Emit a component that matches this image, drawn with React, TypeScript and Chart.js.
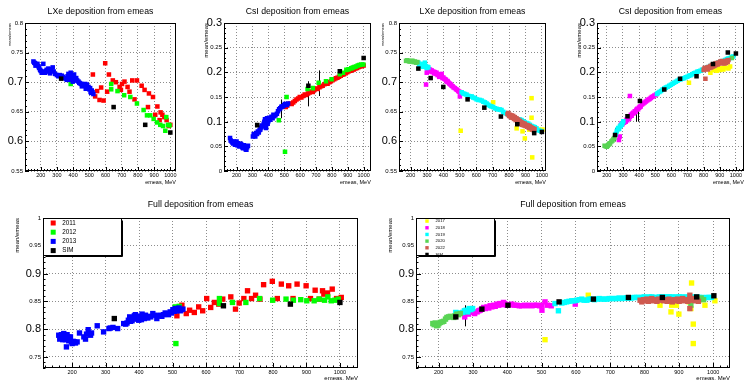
import { useEffect, useRef } from 'react';
import { Chart, registerables } from 'chart.js';
Chart.register(...registerables);

type P = [number, number];
type E = [number, number, number];

// ---------- tick labels ----------
const X_TICKS = [200, 300, 400, 500, 600, 700, 800, 900, 1000];
const Y_TICKS_LXE = [0.55, 0.6, 0.65, 0.7, 0.75, 0.8];
const Y_TICKS_CSI = [0, 0.05, 0.1, 0.15, 0.2, 0.25, 0.3];
const Y_TICKS_FULL = [0.75, 0.8, 0.85, 0.9, 0.95, 1];
const BIG_LXE = [0.6, 0.7];
const BIG_CSI = [0.1, 0.2, 0.3];
const BIG_FULL = [0.8, 0.9];

// ---------- legends ----------
const LABELS_A = ['2011', '2012', '2013', 'SIM'];
const LABELS_B = ['2017', '2018', '2019', '2020', '2022', 'SIM'];

// ---------- Panel 1: LXe, 2011-2013 ----------
const LXE_A_2011: P[] = [[522,0.713],[536,0.676],[548,0.685],[563,0.670],[573,0.691],[588,0.669],[598,0.732],[610,0.684],[621,0.713],[645,0.703],[664,0.700],[687,0.692],[695,0.687],[702,0.697],[717,0.701],[736,0.692],[748,0.684],[765,0.703],[779,0.671],[794,0.703],[823,0.694],[841,0.687],[862,0.658],[868,0.681],[893,0.675],[907,0.645],[920,0.659],[934,0.636],[940,0.649],[951,0.645],[963,0.641],[977,0.636],[990,0.626],[1000,0.628]];
const LXE_A_2012: P[] = [[385,0.697],[635,0.697],[635,0.688],[674,0.685],[715,0.678],[753,0.675],[794,0.664],[835,0.653],[856,0.644],[876,0.644],[897,0.638],[918,0.632],[938,0.628],[955,0.626],[969,0.618],[975,0.641],[986,0.628],[995,0.627]];
const LXE_A_2013: P[] = [[155,0.735],[160,0.733],[165,0.732],[168,0.728],[172,0.730],[175,0.729],[180,0.731],[186,0.727],[190,0.724],[196,0.721],[200,0.719],[206,0.716],[210,0.718],[216,0.731],[220,0.717],[227,0.716],[232,0.719],[237,0.721],[242,0.718],[247,0.723],[252,0.720],[258,0.715],[265,0.722],[274,0.725],[280,0.718],[289,0.714],[300,0.712],[309,0.710],[318,0.712],[330,0.711],[338,0.709],[346,0.707],[355,0.706],[361,0.704],[366,0.710],[371,0.714],[376,0.712],[381,0.711],[385,0.716],[388,0.704],[392,0.708],[398,0.701],[402,0.709],[406,0.713],[410,0.706],[414,0.703],[419,0.707],[425,0.703],[433,0.701],[438,0.699],[443,0.698],[450,0.697],[454,0.693],[460,0.696],[466,0.694],[474,0.697],[478,0.689],[485,0.696],[490,0.691],[495,0.692],[500,0.688],[505,0.690],[508,0.684],[511,0.682],[515,0.686],[520,0.683],[525,0.680]];
const LXE_A_SIM: P[] = [[326,0.706],[650,0.658],[845,0.628],[1000,0.615]];
const LXE_A_ERR: E[] = [];

// ---------- Panel 2: CsI, 2011-2013 ----------
const CSI_A_2011: P[] = [[499,0.131],[510,0.130],[520,0.133],[536,0.137],[547,0.136],[557,0.139],[567,0.142],[577,0.145],[588,0.147],[598,0.150],[608,0.149],[619,0.152],[629,0.155],[639,0.154],[650,0.157],[660,0.159],[670,0.161],[680,0.160],[690,0.164],[701,0.167],[711,0.166],[722,0.170],[732,0.172],[742,0.173],[753,0.176],[763,0.178],[773,0.177],[784,0.180],[794,0.182],[804,0.184],[815,0.186],[825,0.188],[835,0.189],[845,0.191],[856,0.193],[866,0.195],[876,0.196],[887,0.198],[897,0.200],[907,0.202],[918,0.203],[928,0.205],[938,0.206],[948,0.208],[959,0.209],[969,0.211],[979,0.212],[990,0.213],[1000,0.214]];
const CSI_A_2012: P[] = [[466,0.103],[505,0.039],[515,0.150],[647,0.166],[680,0.168],[717,0.179],[763,0.182],[798,0.186],[850,0.196],[870,0.199],[891,0.205],[905,0.206],[922,0.208],[932,0.210],[942,0.211],[952,0.212],[963,0.214],[973,0.215],[984,0.216],[998,0.216]];
const CSI_A_2013: P[] = [[159,0.067],[163,0.062],[169,0.060],[174,0.058],[179,0.056],[184,0.060],[190,0.053],[195,0.055],[200,0.060],[205,0.052],[210,0.056],[215,0.050],[221,0.050],[226,0.055],[231,0.053],[236,0.048],[241,0.046],[246,0.052],[252,0.050],[257,0.044],[262,0.043],[267,0.048],[272,0.051],[303,0.070],[308,0.075],[313,0.073],[318,0.070],[324,0.077],[329,0.075],[334,0.080],[340,0.078],[345,0.083],[350,0.084],[355,0.088],[359,0.092],[365,0.090],[371,0.096],[375,0.100],[379,0.105],[383,0.098],[386,0.087],[390,0.102],[392,0.107],[396,0.096],[400,0.101],[405,0.108],[412,0.104],[420,0.110],[427,0.107],[432,0.114],[437,0.111],[445,0.113],[454,0.116],[461,0.121],[468,0.125],[475,0.127],[482,0.130],[490,0.131],[499,0.133],[504,0.136],[509,0.135],[516,0.134],[524,0.137]];
const CSI_A_SIM: P[] = [[330,0.093],[652,0.173],[850,0.202],[1000,0.229]];
const CSI_A_ERR: E[] = [[650,0.131,0.182],[717,0.152,0.204],[479,0.107,0.145],[231,0.043,0.060],[400,0.092,0.110]];

// ---------- Panel 3: LXe, 2017-2022 ----------
const LXE_B_2017: P[] = [[505,0.618],[703,0.666],[846,0.622],[882,0.617],[896,0.605],[923,0.620],[937,0.673],[937,0.640],[941,0.573],[978,0.620],[1003,0.620]];
const LXE_B_2018: P[] = [[294,0.696],[298,0.716],[303,0.720],[308,0.719],[313,0.722],[318,0.721],[323,0.718],[328,0.720],[333,0.717],[338,0.718],[343,0.715],[348,0.717],[353,0.714],[358,0.716],[364,0.712],[369,0.713],[374,0.709],[379,0.710],[384,0.713],[389,0.714],[394,0.707],[399,0.708],[404,0.706],[410,0.705],[415,0.704],[420,0.701],[425,0.702],[429,0.700],[435,0.698],[440,0.697],[444,0.696],[450,0.694],[456,0.693],[462,0.691],[470,0.690],[477,0.688],[484,0.687],[490,0.685],[496,0.684],[500,0.676],[504,0.681]];
const LXE_B_2019: P[] = [[247,0.733],[252,0.730],[257,0.729],[262,0.731],[267,0.727],[272,0.730],[277,0.726],[282,0.729],[287,0.733],[292,0.727],[297,0.724],[302,0.726],[308,0.725],[511,0.683],[521,0.681],[531,0.680],[541,0.679],[551,0.677],[561,0.676],[572,0.676],[582,0.674],[592,0.673],[602,0.671],[612,0.670],[622,0.670],[633,0.669],[643,0.667],[653,0.666],[663,0.664],[673,0.662],[683,0.660],[693,0.659],[703,0.658],[714,0.656],[724,0.655],[734,0.654],[744,0.654],[754,0.653],[764,0.650],[775,0.648],[785,0.647],[795,0.645],[805,0.643],[815,0.642],[825,0.640],[836,0.639],[846,0.638],[856,0.637],[866,0.637],[876,0.636],[886,0.634],[896,0.632],[906,0.631],[917,0.630],[927,0.628],[937,0.626],[947,0.625],[957,0.624],[967,0.622],[978,0.619],[988,0.618],[998,0.617]];
const LXE_B_2020: P[] = [[172,0.736],[179,0.737],[186,0.736],[193,0.735],[200,0.735],[206,0.736],[212,0.736],[219,0.734],[226,0.735],[233,0.733],[241,0.734]];
const LXE_B_2022: P[] = [[790,0.646],[795,0.648],[800,0.643],[805,0.645],[810,0.641],[815,0.644],[820,0.640],[825,0.643],[830,0.638],[835,0.641],[840,0.636],[845,0.639],[850,0.634],[855,0.637],[860,0.632],[865,0.635],[870,0.630],[875,0.633],[880,0.628],[885,0.631],[890,0.627],[895,0.630],[900,0.626],[905,0.628],[910,0.625],[915,0.627],[920,0.623],[925,0.626],[930,0.622],[935,0.624],[940,0.620],[945,0.622],[950,0.619],[955,0.621]];
const LXE_B_SIM: P[] = [[247,0.723],[322,0.707],[399,0.692],[547,0.671],[649,0.657],[750,0.642],[850,0.629],[953,0.614],[1000,0.616]];
const LXE_B_ERR: E[] = [];

// ---------- Panel 4: CsI, 2017-2022 ----------
const CSI_B_2017: P[] = [[709,0.179],[842,0.199],[862,0.204],[882,0.203],[893,0.207],[903,0.205],[913,0.208],[923,0.206],[933,0.210],[954,0.208],[964,0.212]];
const CSI_B_2018: P[] = [[275,0.063],[280,0.070],[287,0.093],[292,0.097],[297,0.095],[302,0.099],[307,0.098],[312,0.101],[317,0.100],[322,0.104],[327,0.103],[332,0.107],[338,0.106],[343,0.152],[343,0.110],[349,0.114],[354,0.112],[358,0.116],[363,0.118],[368,0.117],[373,0.121],[378,0.120],[383,0.124],[389,0.126],[394,0.125],[399,0.128],[404,0.130],[410,0.131],[418,0.135],[426,0.137],[434,0.139],[442,0.141],[450,0.143],[458,0.145],[465,0.146],[472,0.148],[479,0.150],[487,0.151],[495,0.153],[505,0.155]];
const CSI_B_2019: P[] = [[255,0.075],[261,0.080],[266,0.084],[271,0.087],[276,0.085],[281,0.090],[286,0.092],[292,0.094],[297,0.097],[302,0.101],[511,0.156],[516,0.158],[526,0.160],[536,0.162],[546,0.165],[556,0.167],[566,0.169],[577,0.171],[587,0.173],[597,0.175],[607,0.177],[617,0.179],[628,0.181],[638,0.183],[648,0.185],[658,0.186],[668,0.187],[679,0.188],[689,0.190],[699,0.191],[709,0.193],[719,0.194],[730,0.196],[740,0.198],[750,0.199],[760,0.201],[770,0.202],[780,0.203],[790,0.205],[801,0.206],[811,0.208],[821,0.210],[831,0.211],[842,0.213],[852,0.214],[862,0.216],[872,0.217],[882,0.218],[892,0.220],[903,0.221],[913,0.222],[923,0.223],[933,0.225],[944,0.227],[954,0.228],[964,0.229],[974,0.231],[984,0.232]];
const CSI_B_2020: P[] = [[186,0.051],[193,0.050],[200,0.049],[205,0.051],[210,0.053],[215,0.055],[220,0.056],[228,0.060],[235,0.062],[241,0.065],[247,0.067],[975,0.229]];
const CSI_B_2022: P[] = [[800,0.205],[806,0.209],[811,0.187],[816,0.207],[821,0.210],[826,0.206],[831,0.211],[836,0.209],[842,0.213],[847,0.210],[852,0.215],[857,0.212],[862,0.216],[867,0.213],[872,0.218],[877,0.215],[882,0.219],[887,0.216],[893,0.220],[898,0.218],[903,0.222],[908,0.219],[913,0.223],[918,0.219],[923,0.222],[928,0.218],[933,0.222],[938,0.219],[944,0.224],[949,0.221],[954,0.225]];
const CSI_B_SIM: P[] = [[251,0.073],[328,0.111],[405,0.142],[556,0.165],[654,0.187],[756,0.192],[858,0.217],[950,0.240],[1000,0.238]];
const CSI_B_ERR: E[] = [[251,0.060,0.087],[393,0.100,0.128],[380,0.100,0.115]];

// ---------- Panel 5: Full, 2011-2013 ----------
const FULL_A_2011: P[] = [[513,0.824],[528,0.843],[541,0.828],[551,0.834],[565,0.830],[578,0.840],[590,0.833],[602,0.855],[614,0.839],[625,0.848],[638,0.845],[650,0.854],[674,0.858],[688,0.836],[699,0.847],[713,0.855],[724,0.869],[736,0.855],[748,0.861],[761,0.854],[772,0.880],[798,0.886],[813,0.855],[825,0.881],[847,0.878],[860,0.855],[872,0.881],[899,0.878],[912,0.855],[926,0.870],[938,0.854],[948,0.869],[952,0.863],[963,0.865],[977,0.872],[990,0.855],[1004,0.857]];
const FULL_A_2012: P[] = [[510,0.774],[508,0.840],[515,0.838],[520,0.841],[640,0.855],[640,0.846],[679,0.848],[719,0.848],[760,0.855],[799,0.852],[839,0.854],[861,0.852],[883,0.853],[901,0.851],[923,0.851],[938,0.854],[954,0.852],[964,0.858],[974,0.851],[985,0.852],[995,0.854]];
const FULL_A_2013: P[] = [[160,0.789],[163,0.782],[166,0.786],[168,0.790],[170,0.786],[172,0.781],[175,0.792],[178,0.784],[180,0.781],[182,0.788],[183,0.768],[185,0.790],[187,0.786],[190,0.779],[192,0.785],[195,0.786],[198,0.777],[200,0.774],[203,0.778],[207,0.777],[210,0.775],[215,0.777],[222,0.793],[235,0.786],[240,0.782],[243,0.791],[248,0.799],[252,0.792],[255,0.789],[258,0.793],[275,0.806],[294,0.795],[310,0.801],[314,0.802],[322,0.803],[336,0.801],[354,0.810],[360,0.809],[364,0.811],[368,0.816],[372,0.822],[374,0.814],[379,0.815],[382,0.820],[386,0.824],[389,0.826],[392,0.818],[394,0.819],[397,0.823],[399,0.816],[402,0.821],[404,0.823],[407,0.817],[409,0.827],[412,0.822],[416,0.819],[419,0.825],[422,0.822],[426,0.820],[429,0.823],[435,0.822],[441,0.828],[447,0.825],[453,0.819],[458,0.824],[463,0.825],[468,0.823],[473,0.826],[478,0.829],[483,0.828],[488,0.826],[493,0.831],[497,0.829],[501,0.835],[505,0.832],[508,0.837],[512,0.833],[515,0.836],[519,0.838],[523,0.833],[527,0.835],[531,0.836]];
const FULL_A_SIM: P[] = [[326,0.819],[652,0.842],[852,0.845],[1000,0.848]];
const FULL_A_ERR: E[] = [[165,0.777,0.793],[203,0.770,0.782]];

// ---------- Panel 6: Full, 2017-2022 ----------
const FULL_B_2017: P[] = [[510,0.781],[636,0.861],[845,0.843],[877,0.831],[879,0.843],[893,0.843],[900,0.827],[930,0.849],[935,0.837],[937,0.883],[942,0.809],[942,0.774],[960,0.853],[976,0.843],[1005,0.851]];
const FULL_B_2018: P[] = [[276,0.822],[287,0.827],[299,0.830],[305,0.828],[312,0.831],[317,0.833],[321,0.834],[326,0.836],[331,0.839],[336,0.837],[341,0.840],[346,0.838],[350,0.842],[355,0.840],[360,0.843],[365,0.841],[370,0.845],[375,0.843],[379,0.846],[384,0.844],[389,0.848],[394,0.845],[399,0.843],[406,0.844],[413,0.845],[420,0.843],[428,0.843],[435,0.842],[442,0.842],[450,0.843],[457,0.842],[464,0.843],[472,0.842],[479,0.843],[486,0.843],[494,0.842],[501,0.843],[501,0.834],[510,0.849],[517,0.843],[528,0.842],[598,0.845]];
const FULL_B_2019: P[] = [[250,0.830],[260,0.829],[270,0.830],[275,0.833],[280,0.834],[285,0.831],[289,0.837],[294,0.835],[299,0.837],[539,0.846],[549,0.833],[559,0.847],[566,0.848],[573,0.849],[580,0.850],[588,0.851],[595,0.851],[602,0.852],[610,0.853],[617,0.854],[624,0.852],[632,0.852],[639,0.854],[646,0.854],[654,0.853],[661,0.854],[668,0.855],[675,0.854],[683,0.854],[690,0.854],[697,0.855],[704,0.855],[712,0.855],[719,0.855],[726,0.856],[733,0.855],[741,0.856],[748,0.856],[755,0.856],[762,0.856],[770,0.857],[777,0.857],[784,0.857],[792,0.857],[799,0.858],[806,0.857],[814,0.858],[821,0.858],[828,0.857],[835,0.857],[843,0.858],[850,0.858],[857,0.858],[864,0.858],[872,0.858],[879,0.858],[886,0.857],[893,0.858],[901,0.858],[908,0.858],[915,0.857],[922,0.858],[930,0.858],[937,0.858],[944,0.857],[952,0.858],[959,0.857],[966,0.857],[973,0.856],[981,0.857],[988,0.857],[995,0.857]];
const FULL_B_2020: P[] = [[183,0.810],[187,0.808],[190,0.811],[194,0.806],[198,0.807],[201,0.810],[205,0.812],[210,0.813],[215,0.814],[220,0.818],[224,0.821],[229,0.822],[234,0.823],[239,0.822],[244,0.821],[248,0.824],[253,0.827],[258,0.826],[263,0.828],[935,0.843],[965,0.856],[972,0.853]];
const FULL_B_2022: P[] = [[787,0.852],[792,0.849],[797,0.853],[801,0.851],[806,0.854],[811,0.850],[816,0.852],[821,0.855],[826,0.851],[831,0.853],[836,0.850],[841,0.854],[846,0.852],[851,0.855],[856,0.851],[861,0.853],[866,0.850],[871,0.854],[876,0.852],[881,0.849],[886,0.853],[891,0.851],[896,0.854],[901,0.850],[906,0.852],[911,0.855],[916,0.851],[921,0.853],[926,0.850],[932,0.861],[932,0.837],[932,0.854],[937,0.852],[942,0.855],[947,0.851],[952,0.853],[957,0.850]];
const FULL_B_SIM: P[] = [[250,0.822],[326,0.836],[402,0.843],[551,0.849],[651,0.854],[753,0.857],[852,0.857],[952,0.858],[1002,0.860]];
const FULL_B_ERR: E[] = [[276,0.805,0.843]];

// ---------- styles ----------
const COLORS_A = ['#ff0000', '#00ff00', '#0000ff', '#000000'];
const COLORS_B = ['#ffff00', '#ff00ff', '#00ffff', '#59d454', '#cf5a50', '#000000'];
const FONT = '"Liberation Sans", Arial, Helvetica, sans-serif';
const GRID = '#8c8c8c';

interface LegendCfg { w: number; h: number; first: number; step: number; mx: number; tx: number; font: number; ms: number; }
interface PanelCfg {
  left: number; top: number; w: number; h: number;
  m: { l: number; r: number; t: number; b: number };
  title: string; titleSize: number; titleY: number;
  yTitleX: number; yTitleSize: number; xTitleY: number; xTitleSize: number;
  xRange: [number, number]; yRange: [number, number];
  yTicks: number[]; big: number[];
  labels: string[]; colors: string[]; series: P[][]; errs: E[];
  r: number; tickMajor: number; tickMinor: number;
  legend: LegendCfg | null;
}

const PANELS: PanelCfg[] = [
  { left: 0, top: 0, w: 187, h: 190, m: { l: 25, r: 11, t: 23, b: 19 },
    title: 'LXe deposition from emeas', titleSize: 8.7, titleY: 12,
    yTitleX: 10, yTitleSize: 4, xTitleY: 182, xTitleSize: 5.5,
    xRange: [103, 1035], yRange: [0.55, 0.8], yTicks: Y_TICKS_LXE, big: BIG_LXE,
    labels: LABELS_A, colors: COLORS_A, series: [LXE_A_2011, LXE_A_2012, LXE_A_2013, LXE_A_SIM], errs: LXE_A_ERR,
    r: 3.2, tickMajor: 4, tickMinor: 2, legend: null },
  { left: 187, top: 0, w: 187, h: 190, m: { l: 37, r: 1, t: 23, b: 19 },
    title: 'CsI deposition from emeas', titleSize: 8.7, titleY: 12,
    yTitleX: 19, yTitleSize: 6, xTitleY: 182, xTitleSize: 5.5,
    xRange: [121, 1045], yRange: [0, 0.3], yTicks: Y_TICKS_CSI, big: BIG_CSI,
    labels: LABELS_A, colors: COLORS_A, series: [CSI_A_2011, CSI_A_2012, CSI_A_2013, CSI_A_SIM], errs: CSI_A_ERR,
    r: 3.2, tickMajor: 4, tickMinor: 2, legend: null },
  { left: 374, top: 0, w: 186, h: 190, m: { l: 25, r: 14, t: 23, b: 19 },
    title: 'LXe deposition from emeas', titleSize: 8.7, titleY: 12,
    yTitleX: 9, yTitleSize: 4, xTitleY: 182, xTitleSize: 5.5,
    xRange: [129, 1025], yRange: [0.55, 0.8], yTicks: Y_TICKS_LXE, big: BIG_LXE,
    labels: LABELS_B, colors: COLORS_B, series: [LXE_B_2017, LXE_B_2018, LXE_B_2019, LXE_B_2020, LXE_B_2022, LXE_B_SIM], errs: LXE_B_ERR,
    r: 3.2, tickMajor: 4, tickMinor: 2, legend: null },
  { left: 560, top: 0, w: 187, h: 190, m: { l: 37, r: 1, t: 23, b: 19 },
    title: 'CsI deposition from emeas', titleSize: 8.7, titleY: 12,
    yTitleX: 19, yTitleSize: 6, xTitleY: 182, xTitleSize: 5.5,
    xRange: [139, 1049], yRange: [0, 0.3], yTicks: Y_TICKS_CSI, big: BIG_CSI,
    labels: LABELS_B, colors: COLORS_B, series: [CSI_B_2017, CSI_B_2018, CSI_B_2019, CSI_B_2020, CSI_B_2022, CSI_B_SIM], errs: CSI_B_ERR,
    r: 3.2, tickMajor: 4, tickMinor: 2, legend: null },
  { left: 0, top: 190, w: 374, h: 190, m: { l: 43, r: 16, t: 28, b: 12 },
    title: 'Full deposition from emeas', titleSize: 8.8, titleY: 15,
    yTitleX: 17, yTitleSize: 6, xTitleY: 188, xTitleSize: 6,
    xRange: [113, 1054], yRange: [0.73, 1.0], yTicks: Y_TICKS_FULL, big: BIG_FULL,
    labels: LABELS_A, colors: COLORS_A, series: [FULL_A_2011, FULL_A_2012, FULL_A_2013, FULL_A_SIM], errs: FULL_A_ERR,
    r: 3.8, tickMajor: 5, tickMinor: 2.5,
    legend: { w: 78, h: 37, first: 4.5, step: 9.2, mx: 9.7, tx: 18.7, font: 6.3, ms: 5 } },
  { left: 374, top: 190, w: 373, h: 190, m: { l: 42, r: 17, t: 28, b: 12 },
    title: 'Full deposition from emeas', titleSize: 8.8, titleY: 15,
    yTitleX: 16, yTitleSize: 6, xTitleY: 188, xTitleSize: 6,
    xRange: [134, 1049], yRange: [0.73, 1.0], yTicks: Y_TICKS_FULL, big: BIG_FULL,
    labels: LABELS_B, colors: COLORS_B, series: [FULL_B_2017, FULL_B_2018, FULL_B_2019, FULL_B_2020, FULL_B_2022, FULL_B_SIM], errs: FULL_B_ERR,
    r: 3.8, tickMajor: 5, tickMinor: 2.5,
    legend: { w: 78, h: 37, first: 2.6, step: 6.67, mx: 10.5, tx: 19, font: 4.2, ms: 3.4 } },
];

function fmt(v: number): string {
  return String(+v.toFixed(2));
}

function makeDecor(cfg: PanelCfg) {
  return {
    id: 'rootDecor',
    beforeDatasetsDraw(chart: any) {
      const { ctx } = chart;
      const xs = chart.scales.x;
      const ys = chart.scales.y;
      ctx.save();
      ctx.strokeStyle = '#000';
      ctx.lineWidth = 1;
      for (const [x, lo, hi] of cfg.errs) {
        const px = Math.round(xs.getPixelForValue(x)) + 0.5;
        ctx.beginPath();
        ctx.moveTo(px, ys.getPixelForValue(lo));
        ctx.lineTo(px, ys.getPixelForValue(hi));
        ctx.stroke();
      }
      ctx.restore();
    },
    afterDraw(chart: any) {
      const { ctx, chartArea: a } = chart;
      const xs = chart.scales.x;
      const ys = chart.scales.y;
      ctx.save();
      // frame
      ctx.strokeStyle = '#000';
      ctx.lineWidth = 1;
      ctx.strokeRect(Math.round(a.left) + 0.5, Math.round(a.top) + 0.5,
        Math.round(a.right - a.left) - 1, Math.round(a.bottom - a.top) - 1);
      // ticks
      ctx.beginPath();
      const xStep = 20;
      for (let k = Math.ceil(cfg.xRange[0] / xStep); k * xStep <= cfg.xRange[1]; k++) {
        const v = k * xStep;
        const major = v % 100 === 0;
        const px = Math.round(xs.getPixelForValue(v)) + 0.5;
        ctx.moveTo(px, a.bottom);
        ctx.lineTo(px, a.bottom - (major ? cfg.tickMajor : cfg.tickMinor));
      }
      const yStep = 0.01;
      for (let k = Math.ceil(cfg.yRange[0] / yStep - 1e-6); k * yStep <= cfg.yRange[1] + 1e-9; k++) {
        const v = k * yStep;
        const major = k % 5 === 0;
        const py = Math.round(ys.getPixelForValue(v)) + 0.5;
        ctx.moveTo(a.left, py);
        ctx.lineTo(a.left + (major ? cfg.tickMajor : cfg.tickMinor), py);
      }
      ctx.stroke();
      // titles
      ctx.fillStyle = '#000';
      ctx.font = `${cfg.titleSize}px ${FONT}`;
      ctx.textAlign = 'center';
      ctx.textBaseline = 'middle';
      ctx.fillText(cfg.title, (a.left + a.right) / 2, cfg.titleY);
      ctx.font = `${cfg.xTitleSize}px ${FONT}`;
      ctx.textAlign = 'right';
      ctx.fillText('emeas, MeV', a.right, cfg.xTitleY);
      ctx.save();
      ctx.translate(cfg.yTitleX, a.top);
      ctx.rotate(-Math.PI / 2);
      ctx.font = `${cfg.yTitleSize}px ${FONT}`;
      ctx.textAlign = 'right';
      ctx.fillText('mean/emeas', 0, 0);
      ctx.restore();
      // legend
      const L = cfg.legend;
      if (L) {
        const lx = Math.round(a.left) + 0.5;
        const ly = Math.round(a.top) + 0.5;
        ctx.fillStyle = '#fff';
        ctx.fillRect(lx, ly, L.w, L.h);
        ctx.strokeStyle = '#000';
        ctx.lineWidth = 1;
        ctx.strokeRect(lx, ly, L.w, L.h);
        ctx.beginPath();
        ctx.moveTo(lx + 2, ly + L.h + 1);
        ctx.lineTo(lx + L.w + 1, ly + L.h + 1);
        ctx.lineTo(lx + L.w + 1, ly + 2);
        ctx.stroke();
        ctx.font = `${L.font}px ${FONT}`;
        ctx.textAlign = 'left';
        ctx.textBaseline = 'middle';
        cfg.labels.forEach((lab, i) => {
          const cy = ly + L.first + i * L.step;
          ctx.fillStyle = cfg.colors[i];
          ctx.fillRect(lx + L.mx - L.ms / 2, cy - L.ms / 2, L.ms, L.ms);
          ctx.fillStyle = '#000';
          ctx.fillText(lab, lx + L.tx, cy);
        });
      }
      ctx.restore();
    },
  };
}

function Panel({ cfg }: { cfg: PanelCfg }) {
  const ref = useRef<HTMLCanvasElement>(null);
  useEffect(() => {
    if (!ref.current) return;
    const n = cfg.series.length;
    const chart = new Chart(ref.current, {
      type: 'scatter',
      data: {
        datasets: cfg.series.map((s, i) => ({
          label: cfg.labels[i],
          data: s.map(([x, y]) => ({ x, y })),
          backgroundColor: cfg.colors[i],
          borderWidth: 0,
          pointStyle: 'rect',
          pointRadius: cfg.r,
          pointHoverRadius: cfg.r,
          order: n - i,
        })),
      },
      options: {
        animation: false,
        responsive: false,
        maintainAspectRatio: false,
        events: [],
        layout: { padding: { left: 0, right: cfg.m.r, top: cfg.m.t, bottom: 0 } },
        plugins: { legend: { display: false }, tooltip: { enabled: false }, title: { display: false } },
        scales: {
          x: {
            type: 'linear',
            min: cfg.xRange[0],
            max: cfg.xRange[1],
            afterBuildTicks: (s: any) => { s.ticks = X_TICKS.map((v) => ({ value: v })); },
            afterFit: (s: any) => { s.height = cfg.m.b; },
            grid: { color: GRID, lineWidth: 1, drawTicks: false },
            border: { display: false, dash: [1, 2] },
            ticks: {
              color: '#000', padding: 1.5, maxRotation: 0, autoSkip: false,
              font: { family: FONT, size: 5.5 },
              callback: (v: any) => String(v),
            },
          },
          y: {
            type: 'linear',
            min: cfg.yRange[0],
            max: cfg.yRange[1],
            afterBuildTicks: (s: any) => { s.ticks = cfg.yTicks.map((v) => ({ value: v })); },
            afterFit: (s: any) => { s.width = cfg.m.l; },
            grid: { color: GRID, lineWidth: 1, drawTicks: false },
            border: { display: false, dash: [1, 2] },
            ticks: {
              color: '#000', padding: 2, autoSkip: false,
              font: (c: any) => {
                const v = c && c.tick ? c.tick.value : NaN;
                const big = cfg.big.some((b) => Math.abs(b - v) < 1e-6);
                return { family: FONT, size: big ? 11 : 6 };
              },
              callback: (v: any) => fmt(Number(v)),
            },
          },
        },
      },
      plugins: [makeDecor(cfg)],
    } as any);
    return () => chart.destroy();
  }, [cfg]);
  return (
    <canvas
      ref={ref}
      width={cfg.w}
      height={cfg.h}
      style={{ position: 'absolute', left: cfg.left, top: cfg.top, width: cfg.w, height: cfg.h }}
    />
  );
}

export default function App() {
  return (
    <div style={{ position: 'fixed', left: 0, top: 0, width: 747, height: 380, background: '#fff', overflow: 'hidden' }}>
      {PANELS.map((p, i) => (
        <Panel key={i} cfg={p} />
      ))}
    </div>
  );
}
